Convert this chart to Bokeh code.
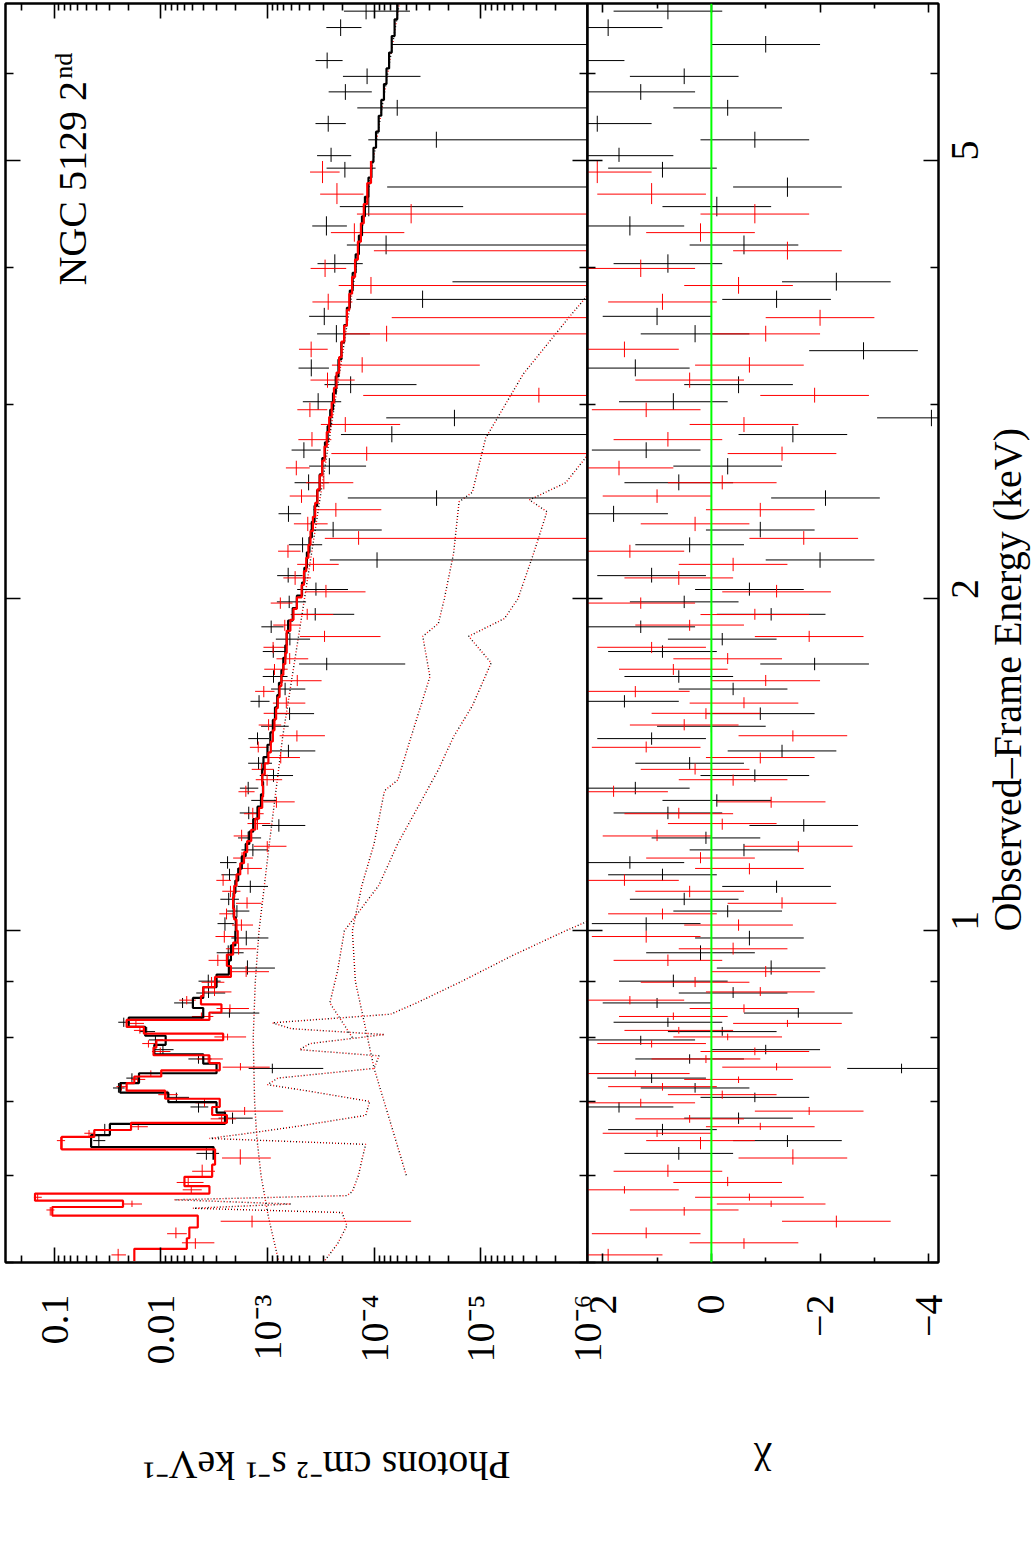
import math
import numpy as np
from bokeh.plotting import figure
from bokeh.models import (Range1d, LogAxis, LinearAxis, FixedTicker, Label, Span,
                          CustomJSTickFormatter)
from bokeh.layouts import row, column
from bokeh.embed import file_html
from bokeh.resources import INLINE

SERIF = "Liberation Serif"
INK = "#000000"
RED = "#ff0000"
GREEN = "#00ff00"
TICK_PX = "40px"
TITLE_PX = "40px"
OVERLAP = 25        # canvas overlap between the two panels, so boundary tick labels are not cut
PANEL_BOTTOM = 110  # room under the frames for the tick labels
RESID_RIGHT = 72    # room right of the residual frame for the energy tick labels

# ---------------------------------------------------------------
# First observation (black): bin centres [keV], folded model
# [photons cm^-2 s^-1 keV^-1], fractional 1-sigma error, residual (chi)
# ---------------------------------------------------------------
black_energy = [0.628, 0.645, 0.660, 0.676, 0.692, 0.706, 0.720, 0.735, 0.750, 0.765,
                0.780, 0.796, 0.810, 0.826, 0.842, 0.860, 0.878, 0.900, 0.925, 0.955, 0.985,
                1.015, 1.042, 1.068, 1.097, 1.124, 1.153, 1.184, 1.214, 1.246, 1.279,
                1.313, 1.347, 1.383, 1.419, 1.456, 1.494, 1.533, 1.574, 1.615, 1.657,
                1.701, 1.746, 1.792, 1.839, 1.887, 1.937, 1.988,
                2.04, 2.10, 2.17, 2.24, 2.31, 2.39, 2.47, 2.55, 2.64, 2.73,
                2.82, 2.92, 3.02, 3.13, 3.24, 3.36, 3.48, 3.61, 3.74, 3.88,
                4.03, 4.19, 4.36, 4.54, 4.73, 4.92,
                5.05, 5.22, 5.40, 5.58, 5.77, 5.96, 6.16, 6.37, 6.60, 6.83]
black_model = [0.0032, 0.045, 0.030, 0.0025, 0.0030, 0.0085, 0.024, 0.016, 0.0030, 0.0040,
               0.0115, 0.0090, 0.0140, 0.0200, 0.0040, 0.0050, 0.0040, 0.0030, 0.0023, 0.0022, 0.0020,
               1.98e-3, 2.07e-3, 2.08e-3, 2.00e-3, 1.88e-3, 1.74e-3, 1.60e-3, 1.48e-3, 1.36e-3, 1.24e-3,
               1.15e-3, 1.10e-3, 1.12e-3, 1.09e-3, 1.00e-3, 9.4e-4, 8.9e-4, 8.5e-4, 8.1e-4, 7.8e-4,
               7.4e-4, 7.1e-4, 6.8e-4, 6.6e-4, 6.4e-4, 5.8e-4, 5.3e-4,
               4.74e-4, 4.51e-4, 4.27e-4, 4.04e-4, 3.84e-4, 3.62e-4, 3.42e-4, 3.24e-4, 3.06e-4, 2.89e-4,
               2.73e-4, 2.58e-4, 2.43e-4, 2.29e-4, 2.16e-4, 2.03e-4, 1.91e-4, 1.80e-4, 1.69e-4, 1.59e-4,
               1.49e-4, 1.39e-4, 1.30e-4, 1.22e-4, 1.13e-4, 1.06e-4,
               1.015e-4, 9.6e-5, 9.06e-5, 8.57e-5, 8.09e-5, 7.66e-5, 7.24e-5, 6.84e-5, 6.43e-5, 6.07e-5]
black_relerr = [0.28, 0.11, 0.13, 0.30, 0.28, 0.20, 0.13, 0.15, 0.20, 0.27,
                0.17, 0.19, 0.16, 0.14, 0.27, 0.25, 0.27, 0.28, 0.30, 0.30, 0.30,
                0.22, 0.22, 0.22, 0.23, 0.23, 0.24, 0.24, 0.25, 0.25, 0.26,
                0.26, 0.27, 0.27, 0.28, 0.28, 0.29, 0.29, 0.30, 0.30, 0.31,
                0.31, 0.32, 0.33, 0.33, 0.34, 0.35, 0.36,
                0.37, 0.38, 0.39, 0.40, 0.41, 0.42, 0.44, 0.45, 0.47, 0.48,
                0.50, 0.23, 0.54, 0.55, 0.57, 0.59, 0.61, 0.63, 0.66, 0.68,
                0.71, 0.74, 0.77, 0.80, 0.83, 0.86,
                0.88, 0.91, 0.94, 0.97, 1.00, 1.04, 1.08, 1.12, 1.16, 1.20]
black_chi = [0.6, -1.4, 0.9, -0.5, 1.7, -0.8, 0.3, 1.1, -3.5, 0.4,
             -1.0, 1.3, -0.2, 0.8, -1.6, 1.0, -0.4, 0.7, -1.1, 0.2, -0.7,
             1.2, -0.3, 0.5, -1.2, 0.9, 1.5, -0.6, 0.1, -1.7, 0.8,
             -0.1, 1.4, -0.8, 0.4, -1.3, 1.1, 0.0, -0.9, 1.6, -0.4,
             0.6, -1.9, 0.9, -0.2, 1.3, -1.1, 0.5,
             -0.7, 1.1, -2.0, 0.4, -0.9, 1.8, -2.1, 0.6, -0.3, 1.2,
             -1.5, -4.05, 0.7, -0.5, 1.4, -2.8, 0.3, 1.0, -1.2, -2.3,
             0.8, -0.6, 1.5, -0.1, -1.4, 0.9,
             1.7, -0.8, 2.1, -0.3, 1.3, 0.5, 2.6, -1.0, 1.9, 0.8]

# ---------------------------------------------------------------
# Second observation (red)
# ---------------------------------------------------------------
red_energy = [0.508, 0.521, 0.531, 0.545, 0.558, 0.565, 0.573, 0.582, 0.591, 0.605,
              0.622, 0.645, 0.655, 0.664, 0.675, 0.686, 0.698, 0.710, 0.722, 0.733,
              0.742, 0.752, 0.765, 0.777, 0.790, 0.801, 0.812, 0.824, 0.836, 0.850,
              0.865, 0.880, 0.898, 0.918, 0.940, 0.963, 0.988,
              1.012, 1.036, 1.059, 1.086, 1.111, 1.139, 1.164, 1.193, 1.219, 1.251,
              1.277, 1.309, 1.337, 1.371, 1.401, 1.436, 1.467, 1.503, 1.537, 1.575,
              1.609, 1.649, 1.686, 1.727, 1.765, 1.808, 1.849, 1.894, 1.936, 1.983,
              2.03, 2.09, 2.15, 2.21, 2.27, 2.34, 2.41, 2.48, 2.55, 2.63,
              2.71, 2.79, 2.88, 2.97, 3.06, 3.16, 3.26, 3.37, 3.48, 3.60,
              3.72, 3.85, 3.99, 4.14, 4.30, 4.47, 4.66, 4.88]
red_model = [0.0177, 0.0057, 0.0054, 0.0045, 0.104, 0.0226, 0.151, 0.0035, 0.0060, 0.0033,
             0.0031, 0.085, 0.042, 0.019, 0.0024, 0.0033, 0.0028, 0.0091, 0.0209, 0.0177,
             0.0099, 0.0028, 0.0035, 0.0117, 0.0110, 0.0026, 0.0144, 0.0209, 0.0035, 0.0027,
             0.0042, 0.0040, 0.0031, 0.0022, 0.0024, 0.0021, 0.0019,
             1.95e-3, 2.05e-3, 2.10e-3, 2.05e-3, 1.95e-3, 1.80e-3, 1.66e-3, 1.55e-3, 1.42e-3, 1.30e-3,
             1.20e-3, 1.12e-3, 1.10e-3, 1.12e-3, 1.06e-3, 9.8e-4, 9.3e-4, 8.9e-4, 8.6e-4, 8.3e-4,
             8.0e-4, 7.7e-4, 7.4e-4, 7.1e-4, 6.8e-4, 6.6e-4, 6.6e-4, 6.1e-4, 5.7e-4, 5.3e-4,
             4.78e-4, 4.55e-4, 4.33e-4, 4.13e-4, 3.95e-4, 3.75e-4, 3.57e-4, 3.40e-4, 3.24e-4, 3.07e-4,
             2.92e-4, 2.78e-4, 2.64e-4, 2.50e-4, 2.38e-4, 2.25e-4, 2.13e-4, 2.02e-4, 1.91e-4, 1.80e-4,
             1.71e-4, 1.61e-4, 1.51e-4, 1.42e-4, 1.33e-4, 1.25e-4, 1.16e-4, 1.07e-4]
red_relerr = [0.22, 0.28, 0.28, 0.30, 0.09, 0.16, 0.08, 0.30, 0.26, 0.30,
              0.28, 0.09, 0.12, 0.16, 0.30, 0.28, 0.30, 0.20, 0.13, 0.14,
              0.18, 0.30, 0.28, 0.17, 0.17, 0.30, 0.15, 0.13, 0.27, 0.28,
              0.24, 0.24, 0.26, 0.28, 0.27, 0.28, 0.28,
              0.20, 0.20, 0.20, 0.21, 0.21, 0.22, 0.22, 0.22, 0.23, 0.23,
              0.24, 0.24, 0.25, 0.25, 0.25, 0.26, 0.26, 0.27, 0.27, 0.28,
              0.28, 0.29, 0.29, 0.30, 0.30, 0.31, 0.31, 0.32, 0.32, 0.33,
              0.34, 0.35, 0.36, 0.37, 0.38, 0.39, 0.40, 0.41, 0.43, 0.44,
              0.46, 0.47, 0.49, 0.50, 0.52, 0.54, 0.56, 0.58, 0.60, 0.62,
              0.64, 0.67, 0.70, 0.73, 0.76, 0.80, 0.84, 0.88]
red_chi = [1.9, -0.6, 1.2, -2.3, 0.5, -1.1, -0.7, 1.6, -0.3, 0.8,
           -1.5, 0.2, 1.0, -0.9, 0.4, -1.8, 1.3, -0.2, 0.9, -0.5,
           1.4, -1.2, 0.1, -0.8, 1.1, -0.3, 0.6, -1.4, 0.7, -0.6,
           1.5, -0.9, 0.3, -1.0, 0.8, -0.4, 1.2,
           -0.5, 0.9, -1.3, 0.4, 1.6, -0.7, 0.2, -1.6, 1.0, -0.2,
           0.6, -1.1, 1.8, -0.4, 0.3, -0.9, 1.2, -1.5, 0.5, 0.1,
           -0.6, 1.4, -1.0, 0.7, -0.3, 1.1, -1.8, 0.4, -0.8, 1.3,
           -1.2, 0.6, -0.4, 1.5, -1.7, 0.3, -0.9, 1.0, -0.2, 1.7,
           -1.3, 0.8, -0.6, 1.2, -1.9, 0.4, -0.7, 1.6, -1.0, -2.0,
           0.9, -0.5, 1.3, -1.4, 0.2, -0.8, 1.1, 2.1]

# ---------------------------------------------------------------
# Additive model components (dotted)
# ---------------------------------------------------------------
pl_energy = [0.50, 0.55, 0.60, 0.65, 0.70, 0.80, 0.90, 1.00, 1.20, 1.50, 2.00, 3.00, 4.00, 5.00, 6.94]
pl_flux = [7.8e-4, 9.8e-4, 1.15e-3, 1.26e-3, 1.32e-3, 1.36e-3, 1.30e-3, 1.20e-3, 9.6e-4, 7.2e-4,
           4.5e-4, 2.35e-4, 1.48e-4, 1.02e-4, 5.8e-5]

cool_energy = [0.50, 0.52, 0.54, 0.555, 0.56, 0.565, 0.57, 0.575, 0.58, 0.60,
               0.62, 0.64, 0.648, 0.655, 0.665, 0.68, 0.70, 0.715, 0.725, 0.735,
               0.75, 0.77, 0.78, 0.79, 0.805, 0.815, 0.825, 0.84, 0.86, 0.90,
               0.95, 1.00, 1.05]
cool_flux = [3.0e-4, 2.2e-4, 1.8e-4, 2.0e-4, 5.0e-3, 6.0e-4, 7.5e-3, 1.8e-4, 1.6e-4, 1.4e-4,
             1.3e-4, 1.2e-4, 3.5e-3, 1.5e-3, 5.0e-4, 1.2e-4, 1.1e-4, 4.0e-4, 1.0e-3, 8.0e-4,
             1.0e-4, 9.0e-5, 5.0e-4, 4.0e-4, 8.0e-5, 6.0e-4, 9.0e-4, 7.0e-5, 4.0e-5, 1.5e-5,
             5.0e-6, 1.6e-6, 5.0e-7]

warm_energy = [0.80, 0.86, 0.92, 1.00, 1.10, 1.20, 1.30, 1.40, 1.50, 1.60,
               1.75, 1.85, 1.92, 2.00, 2.20, 2.40, 2.46, 2.55, 2.70, 2.90]
warm_flux = [1.6e-4, 2.6e-4, 2.2e-4, 1.9e-4, 9.0e-5, 6.0e-5, 3.8e-5, 2.5e-5, 1.8e-5, 1.2e-5,
             8.0e-6, 1.3e-5, 6.0e-6, 4.5e-6, 3.2e-6, 2.4e-6, 3.5e-6, 1.6e-6, 1.0e-6, 6.0e-7]

hot_energy = [0.60, 0.75, 0.90, 1.00, 1.10, 1.20, 1.34, 1.37, 1.50, 1.70,
              1.85, 1.90, 2.00, 2.20, 2.45, 2.50, 2.80, 3.20, 3.60, 4.00]
hot_flux = [5.0e-5, 1.0e-4, 1.5e-4, 1.6e-4, 1.3e-4, 1.0e-4, 8.0e-5, 6.0e-5, 4.5e-5, 3.0e-5,
            3.5e-5, 2.5e-5, 2.2e-5, 1.8e-5, 1.6e-5, 1.2e-5, 9.0e-6, 4.0e-6, 1.5e-6, 6.0e-7]

# ---------------------------------------------------------------
# Axis ticks and labels
# ---------------------------------------------------------------
energy_major = [1.0, 2.0, 5.0]
energy_minor = [0.5, 0.6, 0.7, 0.8, 0.9, 3.0, 4.0, 6.0]
energy_tick_labels = ["1", "2", "5"]

flux_major = [1e-1, 1e-2, 1e-3, 1e-4, 1e-5, 1e-6]
flux_minor = [k * 10.0 ** d for d in range(-6, 0) for k in range(2, 10)]
flux_tick_labels = ["0.1", "0.01", "10⁻³", "10⁻⁴", "10⁻⁵", "10⁻⁶"]

chi_major = [2, 0, -2, -4]
chi_minor = [1, -1, -3]
chi_tick_labels = ["2", "0", "−2", "−4"]

ENERGY_RANGE = (0.5, 6.94)
FLUX_RANGE = (0.2855, 1.0e-6)
CHI_RANGE = (2.28, -4.18)


def bin_edges(centres):
    c = np.asarray(centres, dtype=float)
    mid = np.sqrt(c[1:] * c[:-1])
    lo = np.concatenate([[c[0] * c[0] / mid[0]], mid])
    hi = np.concatenate([mid, [c[-1] * c[-1] / mid[-1]]])
    return lo, hi


def spectrum(energy, model, relerr, chi):
    e = np.asarray(energy, dtype=float)
    m = np.asarray(model, dtype=float)
    r = np.asarray(relerr, dtype=float)
    c = np.asarray(chi, dtype=float)
    lo, hi = bin_edges(e)
    sigma = m * r
    flux = m + c * sigma
    floor = 1e-8
    return dict(e=e, lo=lo, hi=hi, m=m, chi=c,
                f=np.maximum(flux, floor),
                f_lo=np.maximum(flux - sigma, floor),
                f_hi=np.maximum(flux + sigma, floor))


def log_formatter(levels, names):
    return CustomJSTickFormatter(args=dict(levels=levels, names=names), code="""
        let k = 0, best = Infinity;
        for (let i = 0; i < levels.length; i++) {
            const d = Math.abs(Math.log10(levels[i]) - Math.log10(tick));
            if (d < best) { best = d; k = i; }
        }
        return names[k];
    """)


def lin_formatter(levels, names):
    return CustomJSTickFormatter(args=dict(levels=levels, names=names), code="""
        let k = 0, best = Infinity;
        for (let i = 0; i < levels.length; i++) {
            const d = Math.abs(levels[i] - tick);
            if (d < best) { best = d; k = i; }
        }
        return names[k];
    """)


def inward(ax, ticker, major, minor):
    ax.ticker = ticker
    ax.axis_line_color = INK
    ax.axis_line_width = 2
    ax.major_tick_line_color = INK
    ax.minor_tick_line_color = INK
    ax.major_tick_line_width = 1.6
    ax.minor_tick_line_width = 1.6
    ax.major_tick_in = major
    ax.major_tick_out = 0
    ax.minor_tick_in = minor
    ax.minor_tick_out = 0


def no_labels(ax):
    ax.major_label_text_font_size = "1px"
    ax.major_label_text_alpha = 0
    ax.major_label_standoff = 0


def tick_labels(ax, formatter, standoff):
    ax.formatter = formatter
    ax.major_label_text_font = SERIF
    ax.major_label_text_font_size = TICK_PX
    ax.major_label_text_color = INK
    ax.major_label_standoff = standoff
    ax.major_label_orientation = math.pi / 2


def text_strip(width, height, margin_left=0):
    """A bare canvas (frame in pixel units) that carries the axis titles."""
    strip = figure(width=width, height=height,
                   x_range=Range1d(0, width), y_range=Range1d(0, height),
                   x_axis_location=None, y_axis_location=None,
                   output_backend="svg", toolbar_location=None,
                   min_border_left=0, min_border_right=0, min_border_top=0, min_border_bottom=0,
                   styles={"margin-left": f"{margin_left}px"})
    strip.grid.visible = False
    strip.outline_line_color = None
    strip.background_fill_alpha = 0
    strip.border_fill_alpha = 0
    return strip


def strip_title(strip, text, x, y, angle):
    strip.add_layout(Label(x=x, y=y, text=text, angle=angle,
                           text_font=SERIF, text_font_size=TITLE_PX, text_color=INK,
                           text_align="center", text_baseline="middle"))


black = spectrum(black_energy, black_model, black_relerr, black_chi)
red = spectrum(red_energy, red_model, red_relerr, red_chi)

energy_ticker = FixedTicker(ticks=energy_major, minor_ticks=energy_minor)
flux_ticker = FixedTicker(ticks=flux_major, minor_ticks=flux_minor)
chi_ticker = FixedTicker(ticks=chi_major, minor_ticks=chi_minor)

# ---------------------------------------------------------------
# Upper panel: unfolded spectrum (flux runs right-to-left, energy upward)
# ---------------------------------------------------------------
spec = figure(frame_width=582, frame_height=1259,
              x_axis_type="log", y_axis_type="log",
              x_range=Range1d(*FLUX_RANGE), y_range=Range1d(*ENERGY_RANGE),
              output_backend="svg", toolbar_location=None,
              min_border_left=5, min_border_right=OVERLAP, min_border_top=3,
              min_border_bottom=PANEL_BOTTOM)
spec.grid.visible = False
spec.outline_line_color = INK
spec.outline_line_width = 2
spec.background_fill_color = "white"
spec.border_fill_color = "white"

for comp_e, comp_f in [(pl_energy, pl_flux), (cool_energy, cool_flux),
                       (warm_energy, warm_flux), (hot_energy, hot_flux)]:
    spec.line(comp_f, comp_e, color=INK, line_width=1.4, line_dash="1 5")
    spec.line(comp_f, comp_e, color=RED, line_width=1.4, line_dash="1 5", line_dash_offset=3)

for d, col in [(black, INK), (red, RED)]:
    spec.segment(x0=d["f_lo"], y0=d["e"], x1=d["f_hi"], y1=d["e"], color=col, line_width=1)
    spec.segment(x0=d["f"], y0=d["lo"], x1=d["f"], y1=d["hi"], color=col, line_width=1)

for d, col in [(black, INK), (red, RED)]:
    xs = np.repeat(d["m"], 2)
    ys = np.column_stack([d["lo"], d["hi"]]).ravel()
    spec.line(xs, ys, color=col, line_width=2.2)

spec.add_layout(Label(x=0.0673, y=3.85, text="NGC 5129 2", angle=math.pi / 2,
                      text_font=SERIF, text_font_size="40px", text_color=INK,
                      text_align="left", text_baseline="middle"))
spec.add_layout(Label(x=0.0816, y=5.93, text="nd", angle=math.pi / 2,
                      text_font=SERIF, text_font_size="26px", text_color=INK,
                      text_align="left", text_baseline="middle"))

fx = spec.xaxis[0]
inward(fx, flux_ticker, 15, 7)
tick_labels(fx, log_formatter(flux_major, flux_tick_labels), 32)

ey = spec.yaxis[0]
inward(ey, energy_ticker, 15, 8)
no_labels(ey)

top_flux = LogAxis()
inward(top_flux, flux_ticker, 15, 7)
no_labels(top_flux)
spec.add_layout(top_flux, "above")

right_energy = LogAxis()
inward(right_energy, energy_ticker, 15, 8)
no_labels(right_energy)
spec.add_layout(right_energy, "right")

# ---------------------------------------------------------------
# Lower panel: residuals in units of sigma
# ---------------------------------------------------------------
resid = figure(frame_width=351, frame_height=1259, y_axis_type="log",
               x_range=Range1d(*CHI_RANGE), y_range=Range1d(*ENERGY_RANGE),
               output_backend="svg", toolbar_location=None,
               min_border_left=OVERLAP, min_border_right=RESID_RIGHT, min_border_top=3,
               min_border_bottom=PANEL_BOTTOM,
               styles={"margin-left": f"-{2 * OVERLAP}px"})
resid.grid.visible = False
resid.outline_line_color = INK
resid.outline_line_width = 2
resid.background_fill_color = "white"
resid.border_fill_alpha = 0

for d, col in [(black, INK), (red, RED)]:
    resid.segment(x0=d["chi"] - 1, y0=d["e"], x1=d["chi"] + 1, y1=d["e"], color=col, line_width=1)
    resid.segment(x0=d["chi"], y0=d["lo"], x1=d["chi"], y1=d["hi"], color=col, line_width=1)

resid.add_layout(Span(location=0, dimension="height", line_color=GREEN, line_width=2))

cx = resid.xaxis[0]
inward(cx, chi_ticker, 9, 5)
tick_labels(cx, lin_formatter(chi_major, chi_tick_labels), 32)

ly = resid.yaxis[0]
inward(ly, energy_ticker, 15, 8)
no_labels(ly)

top_chi = LinearAxis()
inward(top_chi, chi_ticker, 9, 5)
no_labels(top_chi)
resid.add_layout(top_chi, "above")

ry = LogAxis()
inward(ry, energy_ticker, 15, 8)
tick_labels(ry, log_formatter(energy_major, energy_tick_labels), 27)
resid.add_layout(ry, "right")

# ---------------------------------------------------------------
# Axis titles, on transparent strips beside and under the panels
# ---------------------------------------------------------------
panel_height = 3 + 1259 + PANEL_BOTTOM
resid_end = 5 + 582 + 351 + RESID_RIGHT
side = text_strip(60, panel_height, margin_left=(1036 - 60) - resid_end)
strip_title(side, "Observed–Frame Energy (keV)", 31, panel_height - 737, math.pi / 2)

below = text_strip(1036, 1559 - panel_height)
strip_title(below, "Photons cm⁻² s⁻¹ keV⁻¹", 326, 1559 - 1465, math.pi)
strip_title(below, "χ", 762, 1559 - 1465, math.pi)

layout = column(row(spec, resid, side), below)
open("out.html", "w").write(file_html(layout, INLINE))
